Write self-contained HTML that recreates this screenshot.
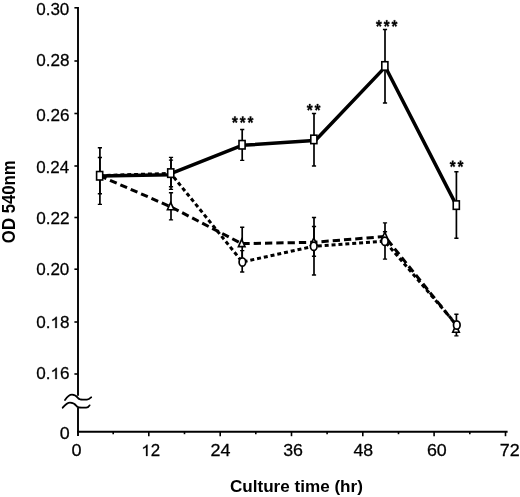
<!DOCTYPE html>
<html><head><meta charset="utf-8"><style>
html,body{margin:0;padding:0;background:#fff;}
svg{display:block;will-change:transform;}
.ax{stroke:#000;stroke-width:1.9;fill:none;}
.tk{stroke:#000;stroke-width:1.6;fill:none;}
.wv{stroke:#000;stroke-width:1.8;fill:none;stroke-linecap:round;}
.eb{stroke:#000;stroke-width:1.7;fill:none;}
.cap{stroke:#000;stroke-width:1.4;fill:none;}
.sl{stroke:#000;stroke-width:3.5;fill:none;stroke-linejoin:round;stroke-linecap:round;}
.ds{stroke:#000;stroke-width:3;fill:none;stroke-dasharray:7.3 4;}
.dt{stroke:#000;stroke-width:3;fill:none;stroke-dasharray:4 2.9;}
.mk{stroke:#000;stroke-width:1.6;fill:#fff;}
.ci{stroke-width:1.7;}
text{font-family:"Liberation Sans",sans-serif;fill:#000;}
.lb{stroke:#000;stroke-width:0.25;}
.tt{font-weight:bold;}
.one{fill:#000;stroke:#000;}
.star{fill:#000;stroke:#000;stroke-width:0.35;vector-effect:non-scaling-stroke;stroke-linejoin:round;}
</style></head><body>
<svg width="520" height="497" viewBox="0 0 520 497">
<path d="M78.0,7 V395.8" class="ax"/>
<path d="M78.0,407.4 V436" class="ax"/>
<path d="M77.0,431.7 H507.6" class="ax"/>
<path d="M74.4,7.8 H78.0" class="tk"/>
<path d="M74.4,61.0 H78.0" class="tk"/>
<path d="M74.4,113.5 H78.0" class="tk"/>
<path d="M74.4,166.0 H78.0" class="tk"/>
<path d="M74.4,217.5 H78.0" class="tk"/>
<path d="M74.4,269.2 H78.0" class="tk"/>
<path d="M74.4,322.0 H78.0" class="tk"/>
<path d="M74.4,374.0 H78.0" class="tk"/>
<path d="M113.2,431.7 V434.2" class="tk"/>
<path d="M148.8,431.7 V436.2" class="tk"/>
<path d="M184.5,431.7 V434.2" class="tk"/>
<path d="M220.2,431.7 V436.2" class="tk"/>
<path d="M255.8,431.7 V434.2" class="tk"/>
<path d="M291.5,431.7 V436.2" class="tk"/>
<path d="M327.1,431.7 V434.2" class="tk"/>
<path d="M362.8,431.7 V436.2" class="tk"/>
<path d="M398.5,431.7 V434.2" class="tk"/>
<path d="M434.1,431.7 V436.2" class="tk"/>
<path d="M469.8,431.7 V434.2" class="tk"/>
<path d="M505.5,431.7 V436.2" class="tk"/>
<path d="M65,400 C67,397 69,394.6 72,394.6 C75,394.6 76.5,396 78,398 C79,399.6 80,399.6 83,399.6 L87,399.6 C89,399.6 90,398.5 91.2,397.3" class="wv"/>
<path d="M62.7,407.7 C65,405 67,402.7 70,402.7 C73,402.7 75,404 76.5,406 C77.5,407.5 79,407.7 82,407.7 L86.2,407.7 C88,407.7 89,406.5 89.6,405.4" class="wv"/>
<path d="M99.9,147.7 V204.4" class="eb"/><path d="M97.8,147.7 H102.0 M97.8,204.4 H102.0" class="cap"/>
<path d="M99.9,157.5 V193.8" class="eb"/><path d="M97.8,157.5 H102.0 M97.8,193.8 H102.0" class="cap"/>
<path d="M171.0,157.4 V189.4" class="eb"/><path d="M168.9,157.4 H173.1 M168.9,189.4 H173.1" class="cap"/>
<path d="M171.0,160.1 V186.8" class="eb"/><path d="M168.9,160.1 H173.1 M168.9,186.8 H173.1" class="cap"/>
<path d="M171.0,192.8 V219.9" class="eb"/><path d="M168.9,192.8 H173.1 M168.9,219.9 H173.1" class="cap"/>
<path d="M242.2,129.5 V160.4" class="eb"/><path d="M240.1,129.5 H244.3 M240.1,160.4 H244.3" class="cap"/>
<path d="M242.2,227.3 V259.9" class="eb"/><path d="M240.1,227.3 H244.3 M240.1,259.9 H244.3" class="cap"/>
<path d="M242.2,250.6 V272.0" class="eb"/><path d="M240.1,250.6 H244.3 M240.1,272.0 H244.3" class="cap"/>
<path d="M314.0,113.5 V166.0" class="eb"/><path d="M311.9,113.5 H316.1 M311.9,166.0 H316.1" class="cap"/>
<path d="M314.0,217.5 V275.0" class="eb"/><path d="M311.9,217.5 H316.1 M311.9,275.0 H316.1" class="cap"/>
<path d="M314.0,226.5 V256.3" class="eb"/><path d="M311.9,226.5 H316.1 M311.9,256.3 H316.1" class="cap"/>
<path d="M385.0,29.5 V103.0" class="eb"/><path d="M382.9,29.5 H387.1 M382.9,103.0 H387.1" class="cap"/>
<path d="M385.0,222.9 V259.1" class="eb"/><path d="M382.9,222.9 H387.1 M382.9,259.1 H387.1" class="cap"/>
<path d="M385.0,231.7 V241.3" class="eb"/><path d="M382.9,231.7 H387.1 M382.9,241.3 H387.1" class="cap"/>
<path d="M456.4,171.7 V238.3" class="eb"/><path d="M454.3,171.7 H458.5 M454.3,238.3 H458.5" class="cap"/>
<path d="M456.4,314.3 V335.9" class="eb"/><path d="M454.3,314.3 H458.5 M454.3,335.9 H458.5" class="cap"/>
<path d="M99.65,175.75 L170.70,206.75 L241.70,243.60 L313.80,242.30 L384.80,236.50 L456.60,325.50" class="ds"/>
<path d="M99.65,175.60 L170.75,173.40 L242.40,262.00 L313.75,246.25 L384.80,241.25 L456.80,325.00" class="dt"/>
<path d="M99.65,176.1 L170.75,174.8 M170.75,173.7 L242.05,145.3 L313.85,140.6 M314.6,141.3 L385.6,66.6 M384.85,65.95 L456.3,205.1" class="sl"/>
<path d="M170.70,202.45 L174.00,209.75 L167.40,209.75 Z" class="mk"/>
<path d="M241.70,239.30 L245.00,246.60 L238.40,246.60 Z" class="mk"/>
<path d="M313.80,238.00 L317.10,245.30 L310.50,245.30 Z" class="mk"/>
<path d="M384.80,232.20 L388.10,239.50 L381.50,239.50 Z" class="mk"/>
<path d="M456.00,325.00 L459.30,332.30 L452.70,332.30 Z" class="mk"/>
<ellipse cx="242.4" cy="262.0" rx="3.3" ry="4.2" class="mk ci"/>
<ellipse cx="313.75" cy="246.25" rx="3.3" ry="4.2" class="mk ci"/>
<ellipse cx="384.8" cy="241.25" rx="3.3" ry="4.2" class="mk ci"/>
<ellipse cx="456.8" cy="325.0" rx="3.3" ry="4.2" class="mk ci"/>
<rect x="96.60" y="171.53" width="6.1" height="8.45" class="mk"/>
<rect x="167.70" y="168.88" width="6.1" height="8.45" class="mk"/>
<rect x="239.00" y="140.53" width="6.1" height="8.45" class="mk"/>
<rect x="310.80" y="135.18" width="6.1" height="8.45" class="mk"/>
<rect x="381.80" y="61.73" width="6.1" height="8.45" class="mk"/>
<rect x="453.25" y="200.88" width="6.1" height="8.45" class="mk"/>
<path transform="translate(231.96,128.33) scale(0.00735,-0.00840)" d="M492 1135L727 1239L795 1042L545 981L731 768L547 647L401 899L252 647L66 770L256 981L6 1042L74 1239L313 1135L295 1409H510Z" class="star"/>
<path transform="translate(239.76,128.33) scale(0.00735,-0.00840)" d="M492 1135L727 1239L795 1042L545 981L731 768L547 647L401 899L252 647L66 770L256 981L6 1042L74 1239L313 1135L295 1409H510Z" class="star"/>
<path transform="translate(247.56,128.33) scale(0.00735,-0.00840)" d="M492 1135L727 1239L795 1042L545 981L731 768L547 647L401 899L252 647L66 770L256 981L6 1042L74 1239L313 1135L295 1409H510Z" class="star"/>
<path transform="translate(306.81,115.93) scale(0.00735,-0.00840)" d="M492 1135L727 1239L795 1042L545 981L731 768L547 647L401 899L252 647L66 770L256 981L6 1042L74 1239L313 1135L295 1409H510Z" class="star"/>
<path transform="translate(314.61,115.93) scale(0.00735,-0.00840)" d="M492 1135L727 1239L795 1042L545 981L731 768L547 647L401 899L252 647L66 770L256 981L6 1042L74 1239L313 1135L295 1409H510Z" class="star"/>
<path transform="translate(375.96,32.13) scale(0.00735,-0.00840)" d="M492 1135L727 1239L795 1042L545 981L731 768L547 647L401 899L252 647L66 770L256 981L6 1042L74 1239L313 1135L295 1409H510Z" class="star"/>
<path transform="translate(383.76,32.13) scale(0.00735,-0.00840)" d="M492 1135L727 1239L795 1042L545 981L731 768L547 647L401 899L252 647L66 770L256 981L6 1042L74 1239L313 1135L295 1409H510Z" class="star"/>
<path transform="translate(391.56,32.13) scale(0.00735,-0.00840)" d="M492 1135L727 1239L795 1042L545 981L731 768L547 647L401 899L252 647L66 770L256 981L6 1042L74 1239L313 1135L295 1409H510Z" class="star"/>
<path transform="translate(449.76,172.53) scale(0.00735,-0.00840)" d="M492 1135L727 1239L795 1042L545 981L731 768L547 647L401 899L252 647L66 770L256 981L6 1042L74 1239L313 1135L295 1409H510Z" class="star"/>
<path transform="translate(457.56,172.53) scale(0.00735,-0.00840)" d="M492 1135L727 1239L795 1042L545 981L731 768L547 647L401 899L252 647L66 770L256 981L6 1042L74 1239L313 1135L295 1409H510Z" class="star"/>
<text transform="translate(36.16,15) scale(1.067,1.017)" class="lb" style="font-size:16px">0.30</text>
<text transform="translate(36.16,66) scale(1.070,1.017)" class="lb" style="font-size:16px">0.28</text>
<text transform="translate(36.16,121) scale(1.070,1.017)" class="lb" style="font-size:16px">0.26</text>
<text transform="translate(36.16,173) scale(1.060,1.017)" class="lb" style="font-size:16px">0.24</text>
<text transform="translate(36.16,224) scale(1.074,1.017)" class="lb" style="font-size:16px">0.22</text>
<text transform="translate(36.16,275) scale(1.067,1.017)" class="lb" style="font-size:16px">0.20</text>
<g transform="translate(36.16,328) scale(1.070,1.017)"><text class="lb" style="font-size:16px">0.<tspan style="fill:none;stroke:none">1</tspan>8</text>
<path transform="translate(13.344,0) scale(0.007812,-0.007812)" d="M763 0H583V1098Q518 1038 412 979T223 890V1057Q375 1125 489 1221T650 1409H763Z" class="one" style="stroke-width:32.0"/>
</g>
<g transform="translate(36.16,379) scale(1.070,1.017)"><text class="lb" style="font-size:16px">0.<tspan style="fill:none;stroke:none">1</tspan>6</text>
<path transform="translate(13.344,0) scale(0.007812,-0.007812)" d="M763 0H583V1098Q518 1038 412 979T223 890V1057Q375 1125 489 1221T650 1409H763Z" class="one" style="stroke-width:32.0"/>
</g>
<text transform="translate(59.83,439) scale(1.117,1.017)" class="lb" style="font-size:16px">0</text>
<text transform="translate(71.52,456) scale(1.130,1.013)" class="lb" style="font-size:16px">0</text>
<g transform="translate(141.23,456) scale(1.057,1.031)"><text class="lb" style="font-size:16px"><tspan style="fill:none;stroke:none">1</tspan>2</text>
<path transform="translate(0.000,0) scale(0.007812,-0.007812)" d="M763 0H583V1098Q518 1038 412 979T223 890V1057Q375 1125 489 1221T650 1409H763Z" class="one" style="stroke-width:32.0"/>
</g>
<text transform="translate(210.45,456) scale(1.124,1.031)" class="lb" style="font-size:16px">24</text>
<text transform="translate(283.13,456) scale(1.115,1.013)" class="lb" style="font-size:16px">36</text>
<text transform="translate(353.46,456) scale(1.108,1.013)" class="lb" style="font-size:16px">48</text>
<text transform="translate(426.91,456) scale(1.116,1.013)" class="lb" style="font-size:16px">60</text>
<text transform="translate(499.80,456) scale(1.120,1.031)" class="lb" style="font-size:16px">72</text>
<text transform="translate(229.95,492) scale(1.069,1.046)" class="tt" style="font-size:16px">Culture time (hr)</text>
<text transform="translate(14.58,243.13) scale(1.124,1.048) rotate(-90)" class="tt" style="font-size:16px">OD 540nm</text>
</svg>
</body></html>
